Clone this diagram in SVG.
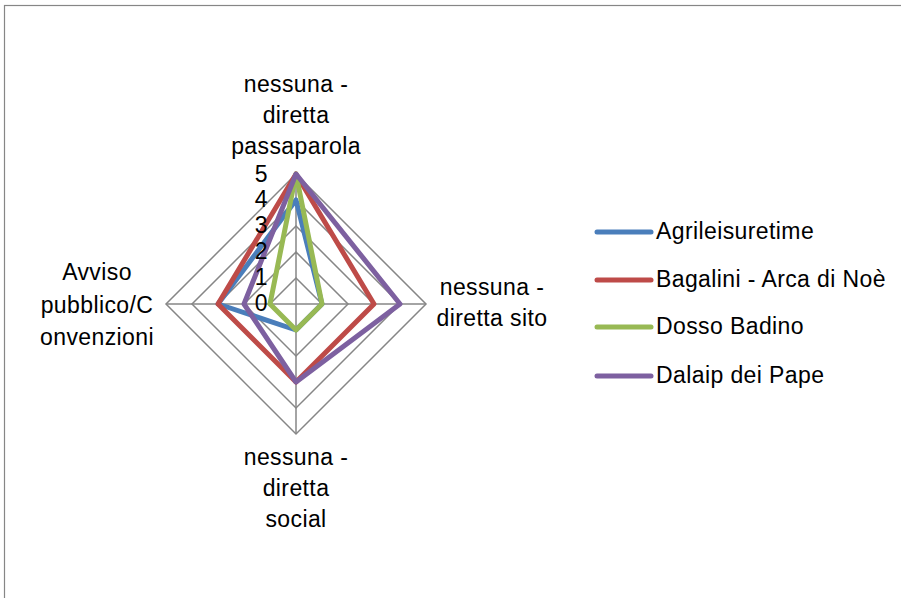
<svg xmlns="http://www.w3.org/2000/svg" width="901" height="598" viewBox="0 0 901 598">
<style>
text{font-family:"Liberation Sans",Arial,sans-serif;font-size:23px;letter-spacing:0.4px;fill:#000}
.c{text-anchor:middle}
.e{text-anchor:end}
.grid{fill:none;stroke:#868686;stroke-width:1.5}
.s{fill:none;stroke-width:5;stroke-linejoin:round;stroke-linecap:round}
</style>
<rect x="4.5" y="5.5" width="910" height="610" fill="#fff" stroke="#868686" stroke-width="1.2"/>
<g id="grid">
<polygon class="grid" points="296,278 322,304 296,330 270,304"/>
<polygon class="grid" points="296,252 348,304 296,356 244,304"/>
<polygon class="grid" points="296,226 374,304 296,382 218,304"/>
<polygon class="grid" points="296,200 400,304 296,408 192,304"/>
<polygon class="grid" points="296,174 426,304 296,434 166,304"/>
<line class="grid" x1="296" y1="174" x2="296" y2="434"/>
<line class="grid" x1="166" y1="304" x2="426" y2="304"/>
</g>
<g id="series">
<polygon class="s" stroke="#4A7EBB" points="296,200 322,304 296,330 218,304"/>
<polygon class="s" stroke="#BE4B48" points="296,174 374,304 296,382 218,304"/>
<polygon class="s" stroke="#98B954" points="296,174 322,304 296,330 270,304"/>
<polygon class="s" stroke="#7D60A0" points="296,174 400,304 296,382 244,304"/>
</g>
<g id="axis-values">
<text class="e" x="268" y="182">5</text>
<text class="e" x="268" y="207">4</text>
<text class="e" x="268" y="233">3</text>
<text class="e" x="268" y="259">2</text>
<text class="e" x="268" y="285">1</text>
<text class="e" x="268" y="311">0</text>
</g>
<g id="label-top">
<text class="c" x="296" y="92">nessuna -</text>
<text class="c" x="296" y="123">diretta</text>
<text class="c" x="296" y="154">passaparola</text>
</g>
<g id="label-right">
<text class="c" x="492" y="295">nessuna -</text>
<text class="c" x="492" y="326">diretta sito</text>
</g>
<g id="label-bottom">
<text class="c" x="296" y="465">nessuna -</text>
<text class="c" x="296" y="496">diretta</text>
<text class="c" x="296" y="527">social</text>
</g>
<g id="label-left">
<text class="c" x="97" y="280">Avviso</text>
<text class="c" x="97" y="313">pubblico/C</text>
<text class="c" x="97" y="345">onvenzioni</text>
</g>
<g id="legend">
<line class="s" stroke="#4A7EBB" x1="597" y1="232" x2="651" y2="232"/>
<text x="656" y="239">Agrileisuretime</text>
<line class="s" stroke="#BE4B48" x1="597" y1="280" x2="651" y2="280"/>
<text x="656" y="287">Bagalini - Arca di Noè</text>
<line class="s" stroke="#98B954" x1="597" y1="327" x2="651" y2="327"/>
<text x="656" y="334">Dosso Badino</text>
<line class="s" stroke="#7D60A0" x1="597" y1="376" x2="651" y2="376"/>
<text x="656" y="383">Dalaip dei Pape</text>
</g>
</svg>
